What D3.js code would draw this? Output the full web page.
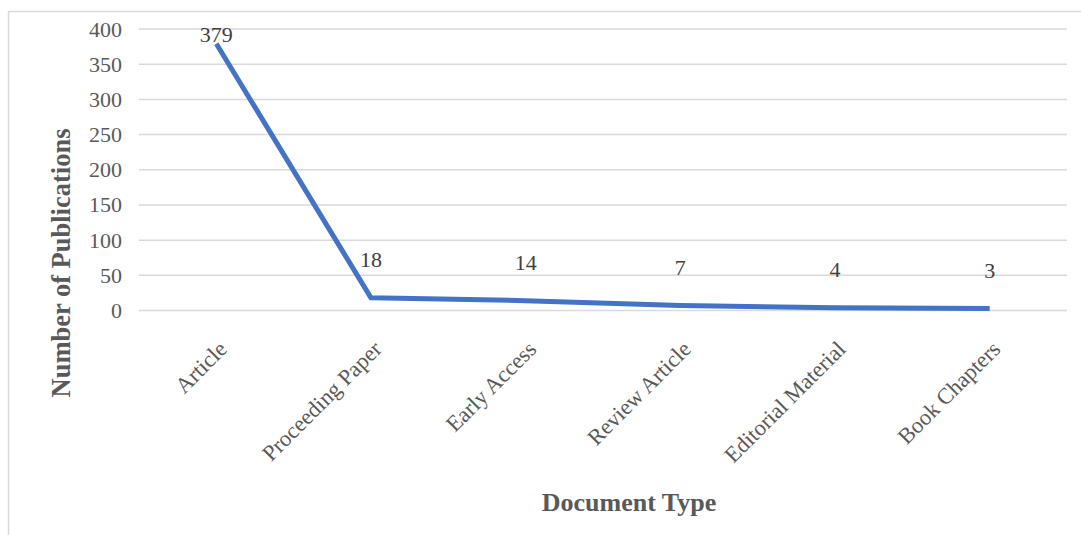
<!DOCTYPE html>
<html>
<head>
<meta charset="utf-8">
<script src="https://cdn.jsdelivr.net/npm/d3@7"></script>
<style>
  html, body { margin: 0; padding: 0; background: #fff; }
  svg { display: block; }
  text { font-family: "Liberation Serif", "Times New Roman", serif; }
</style>
</head>
<body>
<svg id="chart" width="1081" height="535"></svg>
<script>
// Publications by document type
const categories = ["Article", "Proceeding Paper", "Early Access", "Review Article", "Editorial Material", "Book Chapters"];
const counts = [379, 18, 14, 7, 4, 3];
const yTicks = [0, 50, 100, 150, 200, 250, 300, 350, 400];

const W = 1081, H = 535;
const plot = { left: 139, right: 1067, top: 29, bottom: 310.5 };

const svg = d3.select("#chart");

// Outer frame (top and left edges visible)
svg.append("path")
  .attr("d", `M8.5,${H} L8.5,11.5 L${W},11.5`)
  .attr("fill", "none")
  .attr("stroke", "#d9d9d9")
  .attr("stroke-width", 1.5);

const x = d3.scaleBand().domain(categories).range([plot.left, plot.right]);
const y = d3.scaleLinear().domain([0, 400]).range([plot.bottom, plot.top]);
const cx = d => x(d) + x.bandwidth() / 2;

// Horizontal gridlines
svg.append("g")
  .selectAll("line")
  .data(yTicks)
  .join("line")
  .attr("x1", plot.left).attr("x2", plot.right)
  .attr("y1", d => y(d)).attr("y2", d => y(d))
  .attr("stroke", "#d9d9d9")
  .attr("stroke-width", 1.5);

// Y axis tick labels
const yAxis = d3.axisLeft(y).tickValues(yTicks).tickSize(0).tickPadding(0);
const gy = svg.append("g").attr("transform", `translate(122,0)`).call(yAxis);
gy.select(".domain").remove();
gy.selectAll("text")
  .attr("fill", "#595959")
  .style("font-size", "22px")
  .style("font-family", "'Liberation Serif', serif");

// X axis category labels, rotated
const xAxis = d3.axisBottom(x).tickSize(0).tickPadding(0);
const gx = svg.append("g").attr("transform", `translate(0,${plot.bottom})`).call(xAxis);
gx.select(".domain").remove();
gx.selectAll("text")
  .attr("fill", "#595959")
  .style("font-size", "22.5px")
  .style("font-family", "'Liberation Serif', serif")
  .attr("text-anchor", "end")
  .attr("y", 0)
  .attr("dy", 0)
  .attr("transform", "translate(12,40) rotate(-45)");

// Series line
const line = d3.line()
  .x((d, i) => cx(categories[i]))
  .y(d => y(d));

svg.append("path")
  .datum(counts)
  .attr("d", line)
  .attr("fill", "none")
  .attr("stroke", "#4472C4")
  .attr("stroke-width", 5)
  .attr("stroke-linejoin", "round");

// Value labels above the points, kept inside the plot area
svg.append("g")
  .selectAll("text")
  .data(counts)
  .join("text")
  .attr("x", (d, i) => cx(categories[i]))
  .attr("y", d => Math.max(y(d) - 30.5, plot.top + 13))
  .attr("text-anchor", "middle")
  .attr("fill", "#404040")
  .style("font-size", "22px")
  .text(d => d);

// Axis titles
svg.append("text")
  .attr("transform", `translate(70,263) rotate(-90)`)
  .attr("text-anchor", "middle")
  .attr("fill", "#595959")
  .style("font-size", "26.5px")
  .style("font-weight", "bold")
  .text("Number of Publications");

svg.append("text")
  .attr("x", 629)
  .attr("y", 511)
  .attr("text-anchor", "middle")
  .attr("fill", "#595959")
  .style("font-size", "26px")
  .style("font-weight", "bold")
  .text("Document Type");
</script>
</body>
</html>
